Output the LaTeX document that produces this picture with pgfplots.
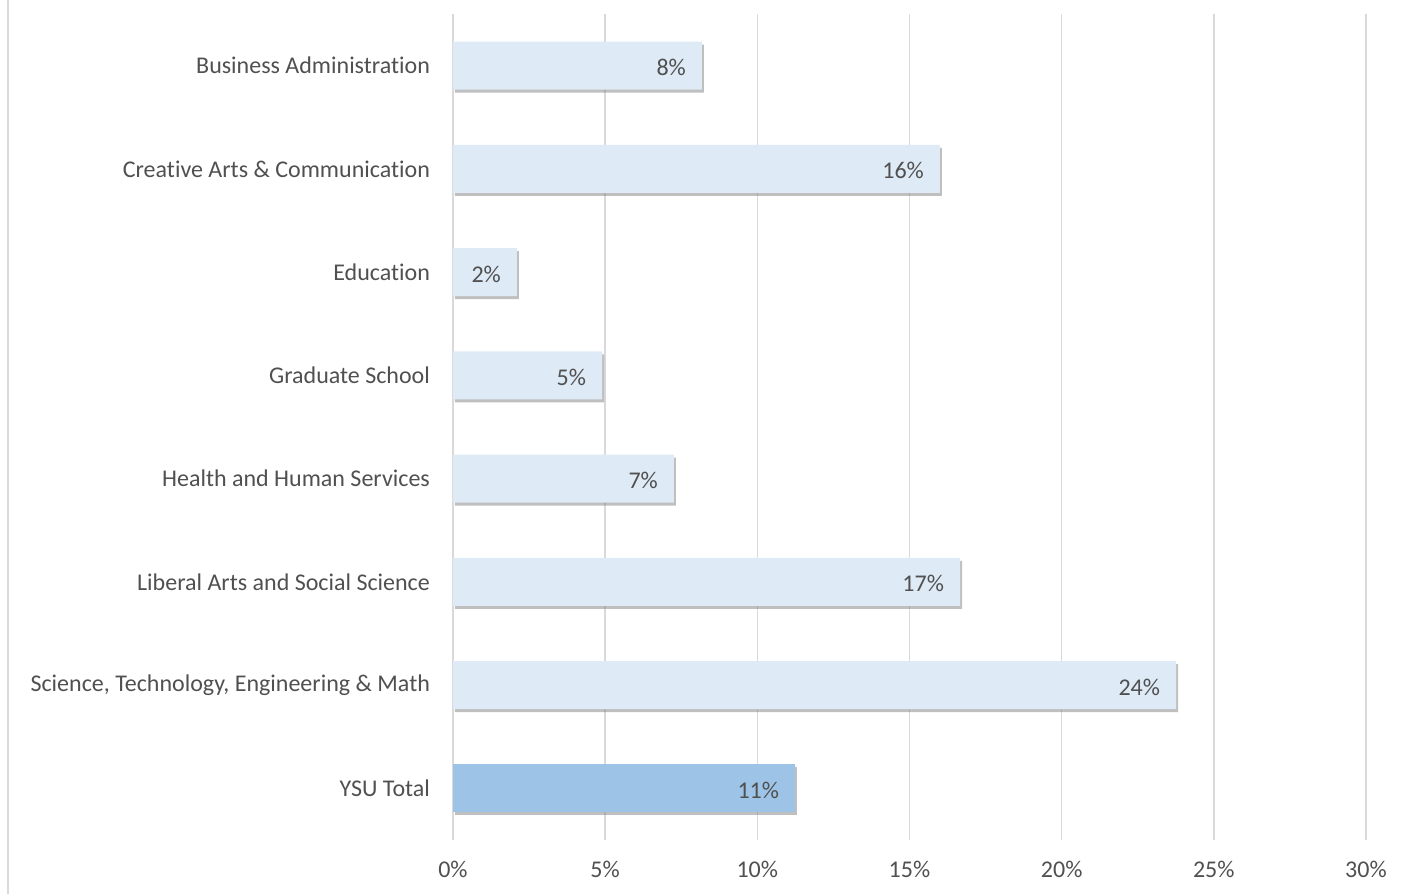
\documentclass[border=0pt]{standalone}
\usepackage{pgfplots}
\pgfplotsset{compat=1.18}
\usetikzlibrary{shadows}
\usepackage{fontspec}
\setmainfont{Carlito}[Ligatures=NoCommon]
\definecolor{barlight}{HTML}{DEEAF6}
\definecolor{bartotal}{HTML}{9DC3E6}
\definecolor{txt}{HTML}{505050}
\definecolor{gridc}{HTML}{D9D9D9}
\begin{document}
\begin{tikzpicture}
\useasboundingbox (-226.5pt,-27pt) rectangle (476pt,420pt);
\draw[gridc, line width=1pt] (-222.5pt,-27pt) -- (-222.5pt,420pt);
\begin{axis}[
    at={(0,0)}, anchor=south west,
    scale only axis,
    width=456.5pt, height=413pt,
    xmin=0, xmax=30,
    ymin=-0.5, ymax=7.5,
    y dir=reverse,
    xbar, bar width=24pt, bar shift=0pt,
    xtick={0,5,...,30},
    xticklabel={\pgfmathprintnumber{\tick}\%},
    ytick={0,...,7},
    yticklabels={Business Administration, Creative Arts \& Communication, Education, Graduate School, Health and Human Services, Liberal Arts and Social Science, {Science, Technology, Engineering \& Math}, YSU Total\hspace{2.5pt}},
    xmajorgrids, major grid style={gridc, line width=0.8pt},
    axis line style={draw=none},
    major tick length=0pt,
    tick label style={font=\fontsize{12}{14}\selectfont, text=txt},
    /pgf/number format/assume math mode=true,
    xticklabel style={yshift=-7pt},
    yticklabel style={xshift=-8pt},
    point meta=explicit symbolic,
    nodes near coords,
    every node near coord/.append style={anchor=east, xshift=-4.5pt, yshift=-1pt, font=\fontsize{12}{14}\selectfont, text=txt},
]
\addplot[fill=barlight, draw=none, drop shadow={shadow xshift=1pt, shadow yshift=-1.5pt, opacity=0.5}] coordinates {
    (8.18,0) [8\%]
    (16.0,1) [16\%]
    (2.1,2) [2\%]
    (4.9,3) [5\%]
    (7.26,4) [7\%]
    (16.66,5) [17\%]
    (23.76,6) [24\%]
};
\addplot[fill=bartotal, draw=none, drop shadow={shadow xshift=1pt, shadow yshift=-1.5pt, opacity=0.5}] coordinates {
    (11.24,7) [11\%]
};
\end{axis}
\end{tikzpicture}
\end{document}
